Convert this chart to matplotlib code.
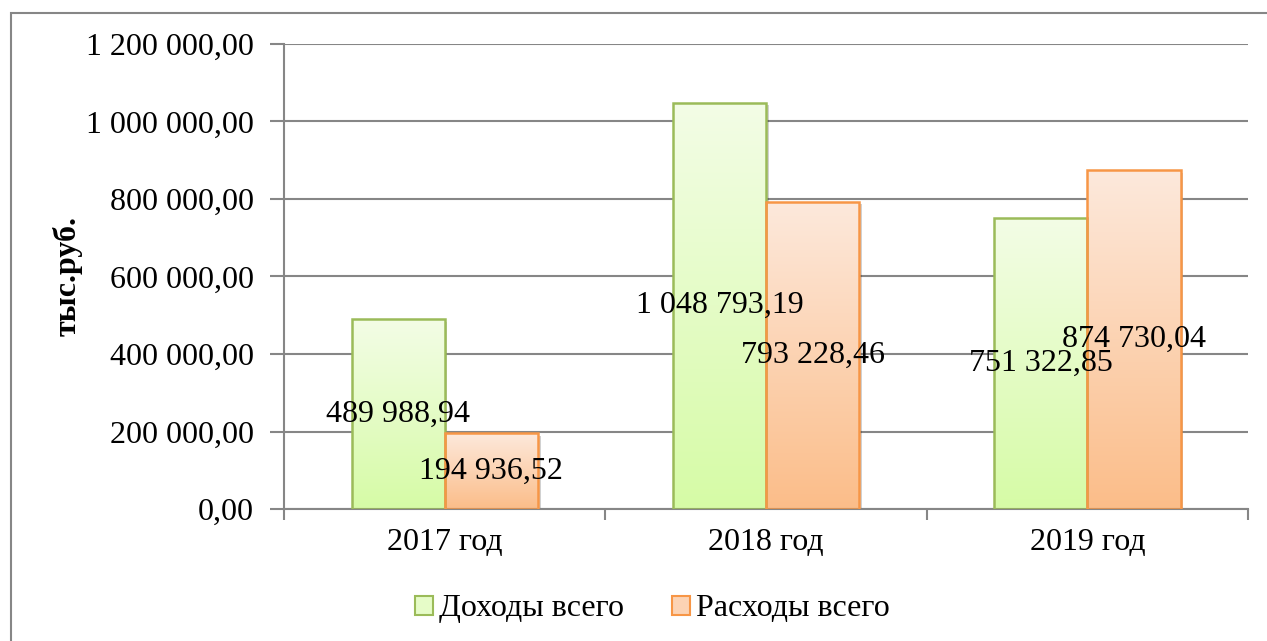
import numpy as np
import matplotlib.pyplot as plt
import matplotlib.patheffects as pe
from matplotlib.colors import LinearSegmentedColormap
from matplotlib.patches import Rectangle, Patch
from matplotlib.ticker import FuncFormatter

plt.rcParams['font.family'] = ['Liberation Serif', 'DejaVu Serif']

# данные
years = ["2017 год", "2018 год", "2019 год"]
dohody = [489988.94, 1048793.19, 751322.85]
rashody = [194936.52, 793228.46, 874730.04]
series_names = ["Доходы всего", "Расходы всего"]


def fmt_ru(v, pos=None):
    s = f"{v:,.2f}"
    return s.replace(",", " ").replace(".", ",")


fig = plt.figure(figsize=(12.67, 6.41), dpi=100)
ax = fig.add_axes([0.2242, 0.2059, 0.7608, 0.7255])

# рамка вокруг диаграммы
fig.patches.append(Rectangle((0.0087, -0.2), 1.2, 0.9797 + 0.2, transform=fig.transFigure,
                             fill=False, edgecolor="#868686", lw=1.5, zorder=0))

x = np.arange(len(years))
w = 0.29
green_cm = LinearSegmentedColormap.from_list("g", ["#f3fde6", "#d6fba6"])
orange_cm = LinearSegmentedColormap.from_list("o", ["#fde9dc", "#fbbd89"])
grad = np.linspace(0, 1, 256).reshape(-1, 1)

shadow = [pe.SimplePatchShadow(offset=(2, -2), alpha=0.18, shadow_rgbFace="black"), pe.Normal()]

for vals, off, cm, ec in [(dohody, -w / 2, green_cm, "#9bbb59"), (rashody, w / 2, orange_cm, "#f79646")]:
    # тень под столбиками
    sh = ax.bar(x + off, vals, width=w, facecolor="white", edgecolor="none", zorder=1.5)
    for b in sh:
        b.set_path_effects(shadow)
    bars = ax.bar(x + off, vals, width=w, facecolor="none", edgecolor=ec, lw=1.8, zorder=3)
    for b in bars:
        bx, by = b.get_x(), b.get_y()
        bw, bh = b.get_width(), b.get_height()
        im = ax.imshow(grad, cmap=cm, aspect="auto", extent=(bx, bx + bw, by, by + bh),
                       origin="upper", zorder=2)
        im.set_clip_path(b)
    for xi, v in zip(x + off, vals):
        ax.text(xi, v / 2, fmt_ru(v), ha="center", va="center", fontsize=23, zorder=5)

ax.set_xlim(-0.5, 2.5)
ax.set_ylim(0, 1200000)
ax.set_yticks(np.arange(0, 1200001, 200000))
ax.yaxis.set_major_formatter(FuncFormatter(fmt_ru))
ax.set_xticks(x)
ax.set_xticklabels(years)
ax.set_xticks([-0.5, 0.5, 1.5, 2.5], minor=True)
ax.tick_params(axis="x", which="major", length=0, pad=14, labelsize=23)
ax.tick_params(axis="x", which="minor", length=8, color="#868686", width=1.5)
ax.tick_params(axis="y", length=10, color="#868686", width=1.5, pad=12, labelsize=23)

ax.grid(axis="y", color="#868686", lw=1.5, zorder=1)
ax.set_axisbelow(True)
for s in ["top", "right"]:
    ax.spines[s].set_visible(False)
for s in ["left", "bottom"]:
    ax.spines[s].set_color("#868686")
    ax.spines[s].set_linewidth(1.5)

ax.set_ylabel("тыс.руб.", fontsize=23, fontweight="bold")
ax.yaxis.set_label_coords(-0.2085, 0.5)

handles = [Patch(facecolor="#e6fcc8", edgecolor="#9bbb59", lw=1.5),
           Patch(facecolor="#fcd3b4", edgecolor="#f79646", lw=1.5)]
fig.legend(handles, series_names, loc="center", bbox_to_anchor=(0.515, 0.05), ncol=2,
           frameon=False, fontsize=23, handlelength=0.55, handleheight=0.55,
           handletextpad=0.2, columnspacing=1.5)

fig.savefig("out.png", dpi=100)
